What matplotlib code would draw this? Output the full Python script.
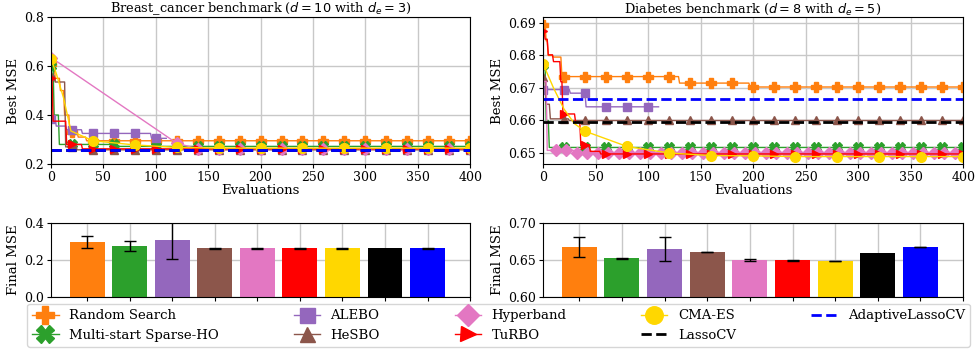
import numpy as np
import matplotlib
matplotlib.use("Agg")
import matplotlib.pyplot as plt

plt.rcParams["font.family"] = "DejaVu Serif"
plt.rcParams["font.size"] = 9.5
plt.rcParams["xtick.labelsize"] = 9
plt.rcParams["ytick.labelsize"] = 9
plt.rcParams["xtick.major.size"] = 3
plt.rcParams["ytick.major.size"] = 3
plt.rcParams["xtick.major.pad"] = 2
plt.rcParams["ytick.major.pad"] = 2

# methods, colours and markers
methods = ["Random Search", "Multi-start Sparse-HO", "ALEBO", "HeSBO",
           "Hyperband", "TuRBO", "CMA-ES", "LassoCV", "AdaptiveLassoCV"]
colors = ["tab:orange", "tab:green", "tab:purple", "tab:brown",
          "tab:pink", "red", "gold", "black", "blue"]
markers = ["P", "X", "s", "^", "D", ">", "o", None, None]

# ---- Breast_cancer: best MSE (step breakpoints: evaluation, value) ----
bc_rs_x = [0, 4, 9, 13, 18, 26, 34]
bc_rs_y = [0.61, 0.55, 0.50, 0.40, 0.33, 0.31, 0.295]
bc_ms_x = [0, 3, 8, 62]
bc_ms_y = [0.60, 0.40, 0.28, 0.272]
bc_alebo_x = [0, 5, 15, 30, 96]
bc_alebo_y = [0.385, 0.355, 0.34, 0.325, 0.305]
bc_hesbo_x = [0, 4, 14, 25]
bc_hesbo_y = [0.56, 0.535, 0.27, 0.258]
bc_turbo_x = [0, 2, 15, 30]
bc_turbo_y = [0.55, 0.375, 0.28, 0.262]
bc_end = [400, 400, 110, 400, 400, 400]
# Hyperband and CMA-ES: points joined directly
bc_hb_x = [0, 120, 140, 160, 180, 200, 220, 240, 260, 280, 300, 320, 340, 360, 380, 400]
bc_hb_y = [0.635, 0.285, 0.262, 0.262, 0.262, 0.262, 0.262, 0.262, 0.262, 0.262,
           0.262, 0.262, 0.262, 0.262, 0.262, 0.262]
bc_cma_x = [0, 5, 12, 19, 40, 80, 120, 160, 200, 240, 280, 320, 360, 400]
bc_cma_y = [0.63, 0.57, 0.47, 0.335, 0.295, 0.278, 0.268, 0.265, 0.265, 0.265,
            0.265, 0.265, 0.265, 0.265]
bc_lasso = 0.258
bc_alasso = 0.258

# ---- Diabetes: best MSE ----
db_rs_x = [0, 3, 5, 10, 18, 130, 197]
db_rs_y = [0.6895, 0.6845, 0.6800, 0.6795, 0.6735, 0.6715, 0.6703]
db_ms_x = [0, 3, 6]
db_ms_y = [0.677, 0.660, 0.6517]
db_alebo_x = [0, 26, 41]
db_alebo_y = [0.6695, 0.6684, 0.6642]
db_hesbo_x = [0, 3, 7, 25]
db_hesbo_y = [0.6735, 0.6650, 0.6605, 0.6600]
db_turbo_x = [0, 2, 5, 10, 17, 19, 31, 36, 45, 55]
db_turbo_y = [0.6875, 0.6850, 0.6802, 0.6781, 0.6719, 0.6620, 0.6595, 0.6525, 0.6505, 0.6497]
db_end = [400, 400, 110, 400, 400, 400]
db_hb_x = [0, 4, 30, 400]
db_hb_y = [0.672, 0.6508, 0.6500, 0.6500]
db_cma_x = [0, 10, 20, 30, 40, 80, 120, 160, 200, 240, 280, 320, 360, 400]
db_cma_y = [0.6775, 0.6700, 0.6635, 0.6590, 0.6567, 0.6520, 0.6500, 0.6492, 0.6491,
            0.6489, 0.6489, 0.6489, 0.6489, 0.6489]
db_lasso = 0.6594
db_alasso = 0.6667

# ---- final MSE bars (mean, error) ----
bc_final = [0.296, 0.275, 0.307, 0.263, 0.263, 0.263, 0.263, 0.263, 0.263]
bc_err = [0.032, 0.028, 0.10, 0.001, 0.001, 0.001, 0.001, 0.0, 0.001]
db_final = [0.6677, 0.6523, 0.6648, 0.6609, 0.6501, 0.6497, 0.6489, 0.6600, 0.6677]
db_err = [0.0133, 0.0003, 0.0158, 0.0003, 0.0013, 0.0009, 0.0003, 0.0, 0.0003]


def expand_steps(bx, by, end):
    # best-so-far value at every evaluation from the step breakpoints
    x = np.arange(0, end + 1)
    idx = np.searchsorted(bx, x, side="right") - 1
    return x, np.asarray(by)[idx]


fig = plt.figure(figsize=(9.77, 3.49), dpi=100)
ax_bc = fig.add_axes([0.0522, 0.530, 0.429, 0.421])
ax_db = fig.add_axes([0.5558, 0.530, 0.430, 0.421])
bar_bc = fig.add_axes([0.0522, 0.149, 0.429, 0.212])
bar_db = fig.add_axes([0.5558, 0.149, 0.430, 0.212])

panels = [
    (ax_bc, [(bc_rs_x, bc_rs_y), (bc_ms_x, bc_ms_y), (bc_alebo_x, bc_alebo_y),
             (bc_hesbo_x, bc_hesbo_y), None, (bc_turbo_x, bc_turbo_y)], bc_end,
     (bc_hb_x, bc_hb_y), (bc_cma_x, bc_cma_y), bc_lasso, bc_alasso, 20),
    (ax_db, [(db_rs_x, db_rs_y), (db_ms_x, db_ms_y), (db_alebo_x, db_alebo_y),
             (db_hesbo_x, db_hesbo_y), None, (db_turbo_x, db_turbo_y)], db_end,
     (db_hb_x, db_hb_y), (db_cma_x, db_cma_y), db_lasso, db_alasso, 10),
]

handles = []
for ax, steps, ends, hb, cma, lasso, alasso, hb_every in panels:
    hs = []
    for i, s in enumerate(steps):
        if s is None:
            # Hyperband
            if hb_every == 20:
                h, = ax.plot(hb[0], hb[1], color=colors[4], marker=markers[4],
                             markersize=6, lw=1)
            else:
                x, y = expand_steps(hb[0], hb[1], 400)
                h, = ax.plot(x, y, color=colors[4], marker=markers[4], markersize=6.5,
                             lw=1, markevery=(12, 10))
            hs.append(h)
            continue
        x, y = expand_steps(s[0], s[1], ends[i])
        h, = ax.plot(x, y, color=colors[i], marker=markers[i], markersize=7 if i < 2 else 6,
                     lw=1, markevery=20)
        hs.append(h)
    cx = np.asarray(cma[0])
    h, = ax.plot(cx, cma[1], color=colors[6], marker="o", markersize=7, lw=1,
                 markevery=list(np.where(cx % 40 == 0)[0]))
    hs.append(h)
    h, = ax.plot([0, 400], [lasso, lasso], color="black", ls="--", lw=2)
    hs.append(h)
    h, = ax.plot([0, 400], [alasso, alasso], color="blue", ls="--", lw=2)
    hs.append(h)
    handles = hs
    ax.set_xlim(0, 400)
    ax.set_xlabel("Evaluations", labelpad=0)
    ax.set_ylabel("Best MSE", labelpad=3)
    ax.grid(True, color="#c8c8c8", lw=1)

ax_bc.set_ylim(0.2, 0.8)
ax_bc.set_yticks([0.2, 0.4, 0.6, 0.8])
ax_db.set_ylim(0.6466, 0.6918)
ax_db.set_yticks([0.65, 0.66, 0.67, 0.68, 0.69])
ax_bc.set_title(r"Breast_cancer benchmark ($d = 10$ with $d_e = 3$)", pad=1.5, fontsize=9.3)
ax_db.set_title(r"Diabetes benchmark ($d = 8$ with $d_e = 5$)", pad=1.5, fontsize=9.3)

pos = np.arange(len(methods))
for bax, vals, errs, ylim, yt in [(bar_bc, bc_final, bc_err, (0, 0.4), [0.0, 0.2, 0.4]),
                                  (bar_db, db_final, db_err, (0.6, 0.7), [0.60, 0.65, 0.70])]:
    bax.bar(pos, vals, width=0.82, color=colors, zorder=2)
    for p, v, e in zip(pos, vals, errs):
        if e > 0:
            bax.errorbar(p, v, yerr=e, color="black", capsize=4, lw=1, zorder=3)
    bax.set_xlim(-0.85, 9)
    bax.set_xticks(np.arange(10))
    bax.set_xticklabels([])
    bax.set_ylim(*ylim)
    bax.set_yticks(yt)
    bax.set_ylabel("Final MSE", labelpad=3)
    bax.grid(True, color="#c8c8c8", lw=1, zorder=0)
    bax.set_axisbelow(True)

fig.legend(handles, methods, ncol=5, loc="lower left", mode="expand",
           bbox_to_anchor=(27 / 977, 2 / 349, 943 / 977, 44 / 349),
           markerscale=1.8, fontsize=9.5, borderaxespad=0, handlelength=2)

fig.savefig("out.png", dpi=100)
